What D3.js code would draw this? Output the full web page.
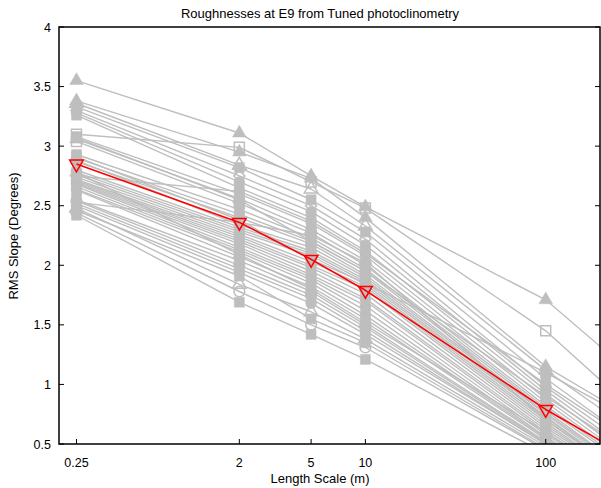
<!DOCTYPE html>
<html><head><meta charset="utf-8">
<script src="https://cdn.jsdelivr.net/npm/d3@7"></script>
<style>body{margin:0;background:#fff}svg{display:block}</style>
</head><body>
<script>
const lengthScales = [0.25, 2, 5, 10, 100, 200];
const xTicks = [0.25, 2, 5, 10, 100];
const yTicks = [0.5, 1, 1.5, 2, 2.5, 3, 3.5, 4];
const titleText = "Roughnesses at E9 from Tuned photoclinometry";
const xLabel = "Length Scale (m)";
const yLabel = "RMS Slope (Degrees)";

// gray sites: values at lengthScales
const siteValues = [
 [3.55,3.11,2.75,2.49,1.71,1.32],
 [3.10,2.99,2.70,2.48,1.45,1.04],
 [3.38,2.95,2.73,2.40,1.15,0.88],
 [3.36,2.84,2.64,2.33,1.12,0.80],
 [3.33,2.82,2.55,2.28,1.05,0.72],
 [3.30,2.75,2.50,2.22,0.98,0.66],
 [3.28,2.70,2.45,2.17,0.95,0.62],
 [3.26,2.65,2.40,2.12,0.92,0.58],
 [3.08,2.60,2.35,2.08,0.88,0.55],
 [3.06,2.56,2.30,2.04,0.85,0.52],
 [3.04,2.52,2.27,2.00,0.82,0.50],
 [2.93,2.47,2.23,1.97,0.80,0.48],
 [2.90,2.43,2.20,1.95,0.78,0.45],
 [2.87,2.40,2.18,1.92,0.76,0.44],
 [2.88,2.34,2.15,1.90,0.75,0.42],
 [2.80,2.32,2.12,1.88,0.73,0.40],
 [2.78,2.30,2.10,1.86,0.72,0.40],
 [2.76,2.28,2.08,1.84,0.70,0.38],
 [2.74,2.26,2.03,1.82,0.68,0.36],
 [2.72,2.24,2.00,1.80,0.66,0.35],
 [2.71,2.22,1.98,1.76,0.64,0.34],
 [2.70,2.20,1.95,1.72,0.62,0.32],
 [2.69,2.18,1.92,1.70,0.60,0.30],
 [2.68,2.15,1.90,1.66,0.58,0.30],
 [2.66,2.13,1.88,1.62,0.56,0.28],
 [2.64,2.11,1.85,1.58,0.55,0.26],
 [2.63,2.07,1.82,1.55,0.54,0.25],
 [2.55,2.04,1.78,1.50,0.52,0.24],
 [2.54,2.00,1.75,1.48,0.51,0.22],
 [2.52,1.97,1.72,1.45,0.50,0.20],
 [2.50,1.94,1.68,1.42,0.50,0.20],
 [2.48,1.84,1.61,1.38,0.48,0.18],
 [2.46,1.91,1.55,1.35,0.46,0.18],
 [2.44,1.78,1.50,1.31,0.45,0.16],
 [2.42,1.69,1.42,1.21,0.42,0.15],
 [3.07,2.55,2.20,1.95,0.90,0.60],
 [2.75,2.62,2.37,2.10,1.00,0.70],
 [2.78,2.09,1.80,1.52,0.60,0.30],
 [2.91,2.38,2.05,1.85,1.10,0.85],
 [2.53,2.36,2.25,2.02,0.70,0.40]
];
const siteMarkers = [
 "triUp","squareOpen","triUp","triOpen","square","diamondOpen","circle","square",
 "square","triUp","squareOpen","square","circle","circleOpen","circle","circle",
 "circle","square","circle","circle","square","circle","diamond","circle",
 "square","circle","square","square","circleOpen","square","circle","triOpen",
 "square","circleOpen","square","square","circle","triUp","square","circle"
];
const meanValues = [2.85,2.36,2.05,1.79,0.79,0.53];

const W = 601, H = 488;
const m = {left:59, right:600, top:27, bottom:444};
const x = d3.scaleLog().domain([0.2, 200]).range([m.left, m.right]);
const y = d3.scaleLinear().domain([0.5, 4]).range([m.bottom, m.top]);

const svg = d3.select("body").append("svg").attr("width", W).attr("height", H)
  .style("font-family", "'Liberation Sans', Arial, Helvetica, sans-serif");

svg.append("defs").append("clipPath").attr("id","clip")
  .append("rect").attr("x", m.left).attr("y", m.top)
  .attr("width", m.right - m.left).attr("height", m.bottom - m.top);

const gray = "#bebebe";
const line = d3.line().x((d,i)=>x(lengthScales[i])).y(d=>y(d));

function symbolPath(kind) {
  let t, size;
  if (kind.startsWith("tri")) { t = d3.symbolTriangle; size = 80; }
  else if (kind.startsWith("square")) { t = d3.symbolSquare; size = 100; }
  else if (kind.startsWith("circle")) { t = d3.symbolCircle; size = 90; }
  else { t = d3.symbolSquare; size = 62; }
  return d3.symbol().type(t).size(size)();
}

const plot = svg.append("g").attr("clip-path","url(#clip)");

function drawSeries(vals, kind, color, width) {
  const g = plot.append("g");
  g.append("path").attr("d", line(vals)).attr("fill","none")
    .attr("stroke", color).attr("stroke-width", width).attr("stroke-linejoin","round");
  const open = kind.endsWith("Open") || kind === "triDown";
  const rot = kind === "triDown" ? 180 : (kind.startsWith("diamond") ? 45 : 0);
  const pts = vals.slice(0, 5).map((v,i)=>({xv: lengthScales[i], v}))
    .filter(p => p.v >= 0.5 && p.v <= 4);
  g.selectAll("path.mk").data(pts).join("path").attr("class","mk")
    .attr("d", symbolPath(kind))
    .attr("transform", p => `translate(${x(p.xv)},${y(p.v)}) rotate(${rot})`)
    .attr("fill", open ? "none" : color)
    .attr("stroke", color).attr("stroke-width", open ? 1.5 : 0.5);
}

siteValues.forEach((vals, i) => drawSeries(vals, siteMarkers[i], gray, 1.4));
drawSeries(meanValues, "triDown", "#ff0000", 1.6);

// frame
svg.append("rect").attr("x", m.left).attr("y", m.top)
  .attr("width", m.right - m.left).attr("height", m.bottom - m.top)
  .attr("fill","none").attr("stroke","#000").attr("stroke-width",1.5);

// y ticks (left and right, inward)
const yAxisL = svg.append("g");
yTicks.forEach(t => {
  yAxisL.append("line").attr("x1", m.left).attr("x2", m.left + 5)
    .attr("y1", y(t)).attr("y2", y(t)).attr("stroke","#000").attr("stroke-width",1);
  yAxisL.append("line").attr("x1", m.right).attr("x2", m.right - 5)
    .attr("y1", y(t)).attr("y2", y(t)).attr("stroke","#000").attr("stroke-width",1);
  yAxisL.append("text").attr("x", 51).attr("y", y(t) + 4.5)
    .attr("text-anchor","end").attr("font-size", 12.5).text(d3.format("~g")(t));
});
// x ticks (bottom, inward)
xTicks.forEach(t => {
  svg.append("line").attr("x1", x(t)).attr("x2", x(t))
    .attr("y1", m.bottom).attr("y2", m.bottom - 5).attr("stroke","#000").attr("stroke-width",1);
  svg.append("text").attr("x", x(t)).attr("y", 467)
    .attr("text-anchor","middle").attr("font-size", 12.5).text(t);
});

svg.append("text").attr("x", 320).attr("y", 18).attr("text-anchor","middle")
  .attr("font-size", 13).text(titleText);
svg.append("text").attr("x", 320).attr("y", 483).attr("text-anchor","middle")
  .attr("font-size", 13).text(xLabel);
svg.append("text").attr("transform", "translate(18,236) rotate(-90)")
  .attr("text-anchor","middle").attr("font-size", 13).text(yLabel);
</script>
</body></html>
